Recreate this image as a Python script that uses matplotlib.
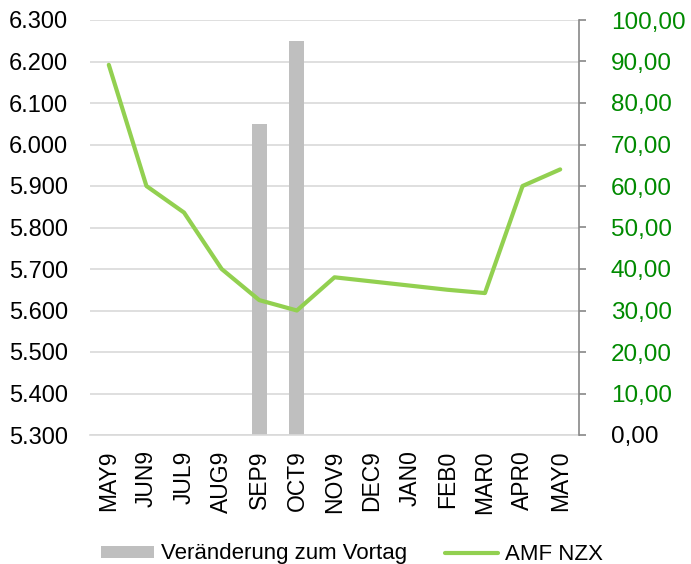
import matplotlib
matplotlib.use("Agg")
import matplotlib.pyplot as plt
import numpy as np
from matplotlib.ticker import FixedLocator

plt.rcParams['font.family'] = ['Liberation Sans', 'DejaVu Sans']

categories = ["MAY9", "JUN9", "JUL9", "AUG9", "SEP9", "OCT9", "NOV9",
              "DEC9", "JAN0", "FEB0", "MAR0", "APR0", "MAY0"]
bar_values = [np.nan, np.nan, np.nan, np.nan, 6.05, 6.25, np.nan,
              np.nan, np.nan, np.nan, np.nan, np.nan, np.nan]
line_values = [89.2, 60.0, 53.6, 40.0, 32.5, 30.0, 38.0,
               37.0, 36.0, 35.0, 34.2, 60.0, 64.0]
left_ticks = [5.3, 5.4, 5.5, 5.6, 5.7, 5.8, 5.9, 6.0, 6.1, 6.2, 6.3]
left_labels = ["5.300", "5.400", "5.500", "5.600", "5.700", "5.800",
               "5.900", "6.000", "6.100", "6.200", "6.300"]
right_ticks = [0, 10, 20, 30, 40, 50, 60, 70, 80, 90, 100]
right_labels = ["0,00", "10,00", "20,00", "30,00", "40,00", "50,00",
                "60,00", "70,00", "80,00", "90,00", "100,00"]

bar_color = "#bfbfbf"
line_color = "#92d050"
right_color = "#008a00"

fig = plt.figure(figsize=(6.91, 5.64), dpi=100)
ax = fig.add_axes([90/691, 1 - 435/564, 489/691, 415/564])
ax2 = ax.twinx()

x = np.arange(len(categories))
base = 5.3
heights = [v - base if not np.isnan(v) else 0 for v in bar_values]
bars = ax.bar(x, heights, bottom=base, width=0.4, color=bar_color,
              label="Veränderung zum Vortag", zorder=2)
ln, = ax2.plot(x, line_values, color=line_color, lw=3.0,
               solid_joinstyle="round", solid_capstyle="round",
               label="AMF NZX", zorder=3)

ax.set_xlim(-0.5, len(categories) - 0.5)
ax.set_ylim(5.3, 6.3)
ax2.set_ylim(0, 100)

ax.yaxis.set_major_locator(FixedLocator(left_ticks))
ax.set_yticklabels(left_labels, fontsize=17)
ax2.yaxis.set_major_locator(FixedLocator(right_ticks))
ax2.set_yticklabels(right_labels, fontsize=17.5)
for i, t in enumerate(ax2.get_yticklabels()):
    t.set_color("black" if i == 0 else right_color)

ax.set_xticks(x)
ax.set_xticklabels(categories, rotation=90, fontsize=16.5)

ax.grid(axis="y", color="#d9d9d9", lw=1.2, zorder=0)
ax.set_axisbelow(True)

for s in ["top", "left", "right"]:
    ax.spines[s].set_visible(False)
for s in ["top", "left", "bottom"]:
    ax2.spines[s].set_visible(False)
ax.spines["bottom"].set_color("#d9d9d9")
ax.spines["bottom"].set_linewidth(1.2)
ax2.spines["right"].set_color("#888888")
ax2.spines["right"].set_linewidth(1.2)

ax.tick_params(axis="y", length=0, pad=16)
ax.tick_params(axis="x", length=0, pad=11)
ax2.tick_params(axis="y", length=5, width=1.2, color="#888888", pad=18)

fig.legend([bars, ln], ["Veränderung zum Vortag", "AMF NZX"],
           loc="center", bbox_to_anchor=(352/691, 1 - 554/564), ncol=2,
           frameon=False, fontsize=16, handlelength=2.4, handleheight=0.45,
           handletextpad=0.3, columnspacing=1.7, borderpad=0)

fig.savefig("out.png", dpi=100)
